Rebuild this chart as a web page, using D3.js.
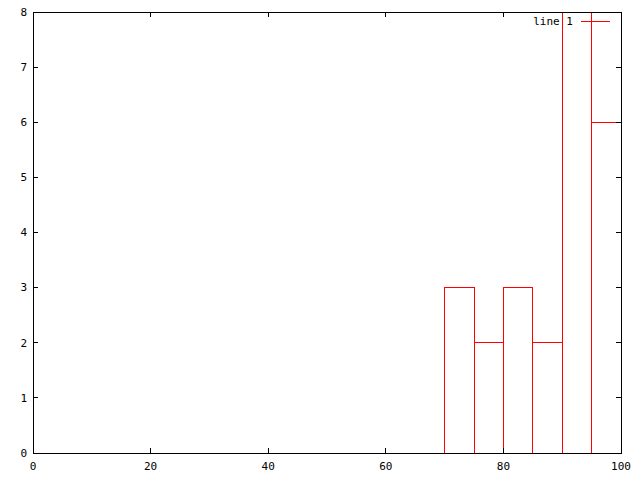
<!DOCTYPE html>
<html>
<head>
<meta charset="utf-8">
<script src="https://cdn.jsdelivr.net/npm/d3@7"></script>
<style>
  body { margin: 0; background: #fff; }
  text { font-family: "DejaVu Sans Mono", monospace; font-size: 11px; }
</style>
</head>
<body>
<div id="chart"></div>
<script>
// bin starts (width 5) and counts
let binStarts = [70, 75, 80, 85, 90, 95];
let counts = [3, 2, 3, 2, 8, 6];
let binWidth = 5;
let xTicks = [0, 20, 40, 60, 80, 100];
let yTicks = [0, 1, 2, 3, 4, 5, 6, 7, 8];
let seriesName = "line 1";

let svgWidth = 640, svgHeight = 480;
let margin = { top: 12, right: 19, bottom: 27, left: 33 };
let chartWidth = svgWidth - margin.left - margin.right;
let chartHeight = svgHeight - margin.top - margin.bottom;

let xScale = d3.scaleLinear().domain([0, 100]).range([0, chartWidth]);
let yScale = d3.scaleLinear().domain([0, 8]).range([chartHeight, 0]);

let svg = d3.select("#chart").append("svg")
  .attr("width", svgWidth)
  .attr("height", svgHeight);

let g = svg.append("g")
  .attr("transform", "translate(" + margin.left + "," + margin.top + ")");

// boxes
let line = d3.line();
g.selectAll("path.box")
  .data(binStarts.map(function(s, i) { return { x: s, y: counts[i] }; }))
  .enter()
  .append("path")
  .attr("class", "box")
  .attr("d", function(d) {
    return line([
      [xScale(d.x), yScale(0)],
      [xScale(d.x), yScale(d.y)],
      [xScale(d.x + binWidth), yScale(d.y)],
      [xScale(d.x + binWidth), yScale(0)]
    ]);
  })
  .attr("fill", "none")
  .attr("stroke", "#ff0000")
  .attr("stroke-width", 1)
  .attr("shape-rendering", "crispEdges");

// ticks (inward, mirrored)
let tickLen = 5;
xTicks.forEach(function(t) {
  if (t > 0 && t < 100) {
    g.append("line").attr("x1", xScale(t)).attr("x2", xScale(t))
      .attr("y1", chartHeight).attr("y2", chartHeight - tickLen);
    g.append("line").attr("x1", xScale(t)).attr("x2", xScale(t))
      .attr("y1", 0).attr("y2", tickLen);
  }
  g.append("text").attr("x", xScale(t)).attr("y", chartHeight + 17)
    .attr("text-anchor", "middle").text(t);
});
yTicks.forEach(function(t) {
  if (t > 0 && t < 8) {
    g.append("line").attr("x1", 0).attr("x2", tickLen)
      .attr("y1", yScale(t)).attr("y2", yScale(t));
    g.append("line").attr("x1", chartWidth).attr("x2", chartWidth - tickLen)
      .attr("y1", yScale(t)).attr("y2", yScale(t));
  }
  g.append("text").attr("x", -6).attr("y", yScale(t)).attr("dy", "0.35em")
    .attr("text-anchor", "end").text(t);
});
g.selectAll("line").attr("stroke", "#000").attr("shape-rendering", "crispEdges");

// frame
g.append("rect")
  .attr("x", 0).attr("y", 0)
  .attr("width", chartWidth).attr("height", chartHeight)
  .attr("fill", "none").attr("stroke", "#000")
  .attr("shape-rendering", "crispEdges");

// legend
g.append("text").attr("x", 540).attr("y", 9).attr("dy", "0.35em")
  .attr("text-anchor", "end").text(seriesName);
g.append("line").attr("x1", 548).attr("x2", 577).attr("y1", 9).attr("y2", 9)
  .attr("stroke", "#ff0000").attr("shape-rendering", "crispEdges");
</script>
</body>
</html>
